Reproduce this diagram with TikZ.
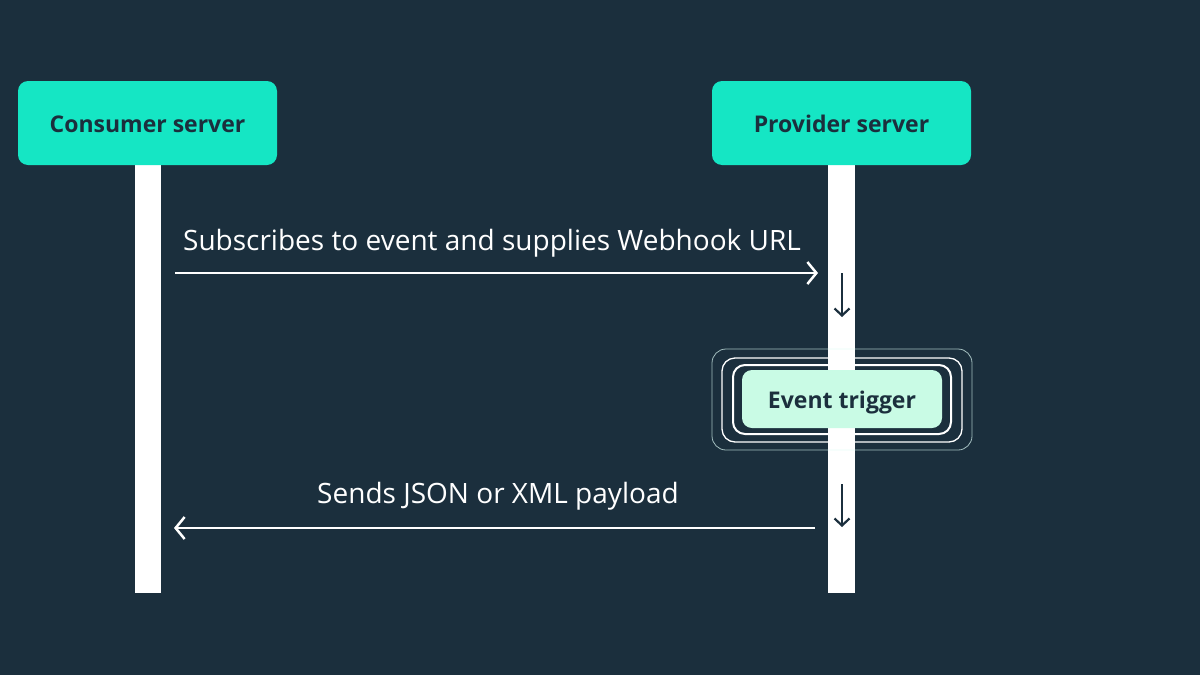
\documentclass[tikz,border=0pt]{standalone}
\usepackage{fontspec}
\setmainfont{Open Sans}
\usetikzlibrary{arrows.meta}
\definecolor{bg}{HTML}{1B2F3D}
\definecolor{mint}{HTML}{15E6C4}
\definecolor{palemint}{HTML}{C9FBE5}
\definecolor{ink}{HTML}{1B2F3D}
\tikzset{
  server/.style={fill=mint, rounded corners=10pt, minimum width=259pt, minimum height=84pt, inner sep=0pt, text=ink, text height=19pt, text depth=0pt, font=\fontsize{23}{28}\selectfont\bfseries},
  lifeline/.style={fill=white, draw=none},
  msg/.style={draw=white, line width=2.5pt, -{Straight Barb[length=9pt,width=22pt,line width=2.5pt]}},
  msglabel/.style={text=white, font=\fontsize{28}{32}\selectfont, inner sep=0pt},
  flow/.style={draw=ink, line width=2.2pt, -{Straight Barb[length=7pt,width=15pt,line width=2.2pt]}},
  trigger/.style={fill=palemint, rounded corners=10pt, minimum width=200pt, minimum height=58pt, inner sep=0pt, text=ink, text height=18pt, text depth=0pt, font=\fontsize{23}{28}\selectfont\bfseries},
}
\begin{document}
\begin{tikzpicture}[x=1pt,y=-1pt]
\fill[bg] (0,0) rectangle (1200,675);
\useasboundingbox (0,0) rectangle (1200,675);
% lifelines
\fill[lifeline] (135,160) rectangle (161,593);
\fill[lifeline] (828,160) rectangle (855,593);
% servers
\node[server] (cons) at (147.5,123) {Consumer server};
\node[server] (prov) at (841.5,123) {Provider server};
% event trigger rings
\draw[white!85!mint, line width=0.8pt, rounded corners=14pt, opacity=0.7] (712,349) rectangle (972,450);
\draw[white, line width=1.3pt, rounded corners=13pt] (722,358) rectangle (962,442);
\draw[white, line width=2pt, rounded corners=12pt] (733,365) rectangle (951,434);
\node[trigger] (trig) at (842,399) {Event trigger};
% coordinates for messages
\coordinate (s1) at (175,273);
\coordinate (e1) at (818,273);
\coordinate (s2) at (815,528);
\coordinate (e2) at (174,528);
\draw[msg] (s1) -- (e1);
\draw[msg] (s2) -- (e2);
\node[msglabel, anchor=base] (l1) at (492,250) {Subscribes to event and supplies Webhook URL};
\node[msglabel, anchor=base] (l2) at (498,503) {Sends JSON or XML payload};
% down arrows
\coordinate (d1a) at (842,273);
\coordinate (d1b) at (842,317);
\coordinate (d2a) at (842,484);
\coordinate (d2b) at (842,527);
\draw[flow] (d1a) -- (d1b);
\draw[flow] (d2a) -- (d2b);
\end{tikzpicture}
\end{document}
